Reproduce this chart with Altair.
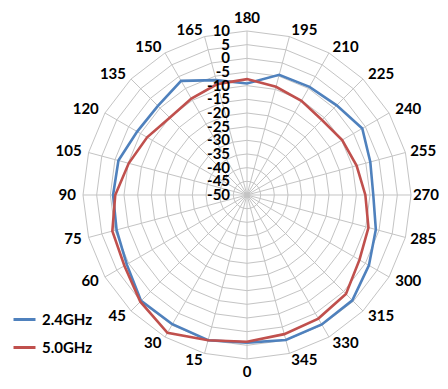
import altair as alt
import pandas as pd

# ---- data ----
angles = list(range(0, 360, 15))
series_names = ["2.4GHz", "5.0GHz"]
colors = ["#4F81BD", "#C0504D"]
gain_24 = [4.0, 5.0, 4.6, 4.8, 0.8, -0.6, -1.0, -1.3, -3.6, -3.9, -1.8, -6.5,
           -9.2, -4.5, -4.3, -3.6, -1.3, -3.3, -3.8, -1.2, 1.5, 4.5, 4.7, 4.9]
gain_50 = [3.7, 5.0, 8.2, 5.2, 1.8, 1.0, -1.8, -5.2, -7.8, -10.0, -9.3, -8.0,
           -7.6, -9.0, -10.2, -11.2, -9.8, -8.5, -6.7, -4.0, -2.5, 1.2, 2.2, 2.7]
levels = list(range(-50, 15, 5))
r_min = -50
r_max = 10

FONT = "Lato"

# ---- tables built from the arrays ----
srows = []
for name, vals in zip(series_names, [gain_24, gain_50]):
    for i, (a, v) in enumerate(zip(angles + [360], vals + [vals[0]])):
        srows.append({"series": name, "angle": a, "value": v, "ord": i})
df_series = pd.DataFrame(srows)

grows = []
for lv in levels[1:]:
    for i, a in enumerate(angles + [360]):
        grows.append({"level": lv, "angle": a, "ord": i})
df_grid = pd.DataFrame(grows)

df_spokes = pd.DataFrame({"angle": angles, "value": [r_max] * len(angles)})
df_alabels = pd.DataFrame({"angle": angles, "label": [str(a) for a in angles]})
df_rlabels = pd.DataFrame({"level": levels, "label": [str(l) for l in levels]})

xs = alt.Scale(domain=[-87.44, 70.61], nice=False, zero=False)
ys = alt.Scale(domain=[-68.05, 68.41], nice=False, zero=False)

def X(f):
    return alt.X(f, type="quantitative", scale=xs, axis=None)

def Y(f):
    return alt.Y(f, type="quantitative", scale=ys, axis=None)

polar_x = "-(datum.r) * sin(datum.angle * PI / 180)"
polar_y = "-(datum.r) * cos(datum.angle * PI / 180)"

grid = alt.Chart(df_grid).transform_calculate(
    r=f"datum.level - ({r_min})"
).transform_calculate(x=polar_x, y=polar_y).mark_line(
    color="#C4C4C4", strokeWidth=1
).encode(x=X("x"), y=Y("y"), detail="level:N", order="ord:Q")

spokes = alt.Chart(df_spokes).transform_calculate(
    r=f"datum.value - ({r_min})"
).transform_calculate(x=polar_x, y=polar_y, x0="0", y0="0").mark_rule(
    color="#C4C4C4", strokeWidth=1
).encode(x=X("x0"), y=Y("y0"), x2="x:Q", y2="y:Q")

lines = alt.Chart(df_series).transform_calculate(
    r=f"datum.value - ({r_min})"
).transform_calculate(x=polar_x, y=polar_y).mark_line(
    strokeWidth=2.6, strokeJoin="miter"
).encode(
    x=X("x"), y=Y("y"), order="ord:Q",
    color=alt.Color(
        "series:N",
        scale=alt.Scale(domain=series_names, range=colors),
        legend=alt.Legend(
            title=None, orient="none", legendX=4, legendY=299,
            symbolType="stroke", symbolStrokeWidth=3, symbolSize=484,
            labelFont=FONT, labelFontSize=15, labelFontWeight="bold",
            labelColor="black", rowPadding=7, labelOffset=5,
        ),
    ),
)

label_base = alt.Chart(df_alabels).transform_calculate(
    r=("(datum.angle == 0 || datum.angle == 180) ? 64.6 : "
       "datum.angle == 270 ? 60.7 : "
       "(datum.angle == 255 || datum.angle == 285) ? 61.8 : 62.6")
).transform_calculate(x=polar_x, y=polar_y)

text_style = dict(font=FONT, fontSize=15, fontWeight="bold", color="black",
                  baseline="middle")

labels_left = label_base.transform_filter(
    "datum.angle > 0 && datum.angle < 180"
).mark_text(align="right", **text_style).encode(
    x=X("x"), y=Y("y"), text="label:N")

labels_right = label_base.transform_filter(
    "datum.angle > 180"
).mark_text(align="left", **text_style).encode(
    x=X("x"), y=Y("y"), text="label:N")

labels_mid = label_base.transform_filter(
    "datum.angle == 0 || datum.angle == 180"
).mark_text(align="center", **text_style).encode(
    x=X("x"), y=Y("y"), text="label:N")

rlabels = alt.Chart(df_rlabels).transform_calculate(
    y=f"datum.level - ({r_min})", x="-6.2"
).mark_text(align="right", **text_style).encode(
    x=X("x"), y=Y("y"), text="label:N")

chart = alt.layer(
    grid, spokes, lines, labels_left, labels_right, labels_mid, rlabels
).properties(
    width=432, height=373,
    autosize=alt.AutoSizeParams(type="none"),
    padding=0,
    background="white",
).configure_view(stroke=None)

chart.save("out.html", embed_options={"renderer": "svg", "actions": False})
